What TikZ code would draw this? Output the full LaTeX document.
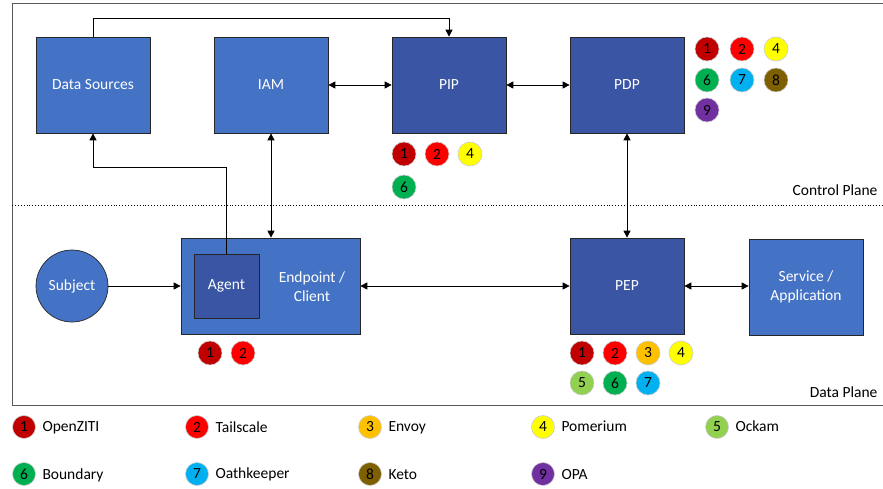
\documentclass[tikz,border=0pt]{standalone}
\usepackage{fontspec}
\setmainfont{Carlito}
\usepackage{tikz}
\usetikzlibrary{shapes,arrows.meta,positioning,calc}
\definecolor{boxblue}{RGB}{68,114,196}
\definecolor{boxdark}{RGB}{58,85,163}
\definecolor{frameg}{RGB}{89,89,89}
\definecolor{zt1}{RGB}{192,0,0}
\definecolor{zt2}{RGB}{255,0,0}
\definecolor{zt3}{RGB}{255,192,0}
\definecolor{zt4}{RGB}{255,255,0}
\definecolor{zt5}{RGB}{146,208,80}
\definecolor{zt6}{RGB}{0,176,80}
\definecolor{zt7}{RGB}{0,176,240}
\definecolor{zt8}{RGB}{127,96,0}
\definecolor{zt9}{RGB}{112,48,160}
\tikzset{
  comp/.style={draw=black!85, line width=0.7pt, fill=boxblue, text=white, minimum width=114pt, minimum height=96pt, align=center, inner sep=0pt},
  compdark/.style={comp, fill=boxdark},
  badge/.style={circle, draw=black!20, line width=0.6pt, minimum size=24pt, inner sep=0pt, text=black},
  arr/.style={-{Triangle[length=7pt,width=7pt]}, line width=0.8pt},
  biarr/.style={{Triangle[length=7pt,width=7pt]}-{Triangle[length=7pt,width=7pt]}, line width=0.8pt},
}
\begin{document}
\begin{tikzpicture}[x=1pt, y=-1pt, font=\fontsize{15.5}{18}\selectfont]
\useasboundingbox (0,0) rectangle (883,489);
\draw[frameg, line width=1pt] (12,4) rectangle (895,405);
\draw[dotted, line width=0.9pt] (12,205) -- (895,205);

% control plane
\node[comp] (ds) at (93,85) {Data Sources};
\node[comp] (iam) at (271,85) {IAM};
\node[compdark] (pip) at (449,85) {PIP};
\node[compdark] (pdp) at (627,85) {PDP};
\node[anchor=east] (cplane) at (881,190) {Control Plane};

% data plane
\node[circle, draw=black!85, line width=0.7pt, fill=boxblue, text=white, minimum size=72pt, inner sep=0pt] (subject) at (72,286) {Subject};
\node[comp, minimum width=179pt] (endpoint) at (270.5,286) {};
\node[anchor=center, text=white, align=center] (eplabel) at (312,287) {Endpoint /\\[1pt]Client};
\node[compdark, minimum width=65pt, minimum height=64pt] (agent) at (226.5,286) {Agent};
\node[compdark] (pep) at (627,286) {PEP};
\node[comp] (svc) at (806,287) {Service /\\[1pt]Application};
\node[anchor=east] (dplane) at (881,392) {Data Plane};

% connectors
\draw[arr] (ds.north) -- ++(0,-18) -| (pip.north);
\draw[biarr] (iam.east) -- (pip.west);
\draw[biarr] (pip.east) -- (pdp.west);
\draw[arr] (agent.north) -- ++(0,-86) -| (ds.south);
\draw[biarr] (iam.south) -- (iam.south |- endpoint.north);
\draw[arr] (subject.east) -- (endpoint.west);
\draw[biarr] (endpoint.east) -- (pep.west);
\draw[biarr] (pdp.south) -- (pep.north);
\draw[biarr] (pep.east) -- (pep.east -| svc.west);

% badges
\node[badge, fill=zt1] (pip1) at (404,154) {1};
\node[badge, fill=zt2] (pip2) at (437,154) {2};
\node[badge, fill=zt4] (pip4) at (470,154) {4};
\node[badge, fill=zt6] (pip6) at (404,187) {6};

\node[badge, fill=zt1] (pdp1) at (707,49) {1};
\node[badge, fill=zt2] (pdp2) at (742,49) {2};
\node[badge, fill=zt4] (pdp4) at (776,49) {4};
\node[badge, fill=zt6] (pdp6) at (707,80) {6};
\node[badge, fill=zt7] (pdp7) at (742,80) {7};
\node[badge, fill=zt8] (pdp8) at (776,80) {8};
\node[badge, fill=zt9] (pdp9) at (707,110) {9};

\node[badge, fill=zt1] (ep1) at (210,353) {1};
\node[badge, fill=zt2] (ep2) at (243,353) {2};

\node[badge, fill=zt1] (pep1) at (582,353) {1};
\node[badge, fill=zt2] (pep2) at (615,353) {2};
\node[badge, fill=zt3] (pep3) at (648,353) {3};
\node[badge, fill=zt4] (pep4) at (681,353) {4};
\node[badge, fill=zt5] (pep5) at (582,383) {5};
\node[badge, fill=zt6] (pep6) at (615,383) {6};
\node[badge, fill=zt7] (pep7) at (648,383) {7};

% legend
\foreach \n/\lx/\ly/\lname in {1/24/427/OpenZITI, 2/197/427/Tailscale, 3/370/427/Envoy, 4/543/427/Pomerium, 5/717/427/Ockam,
    6/24/474/Boundary, 7/197/474/Oathkeeper, 8/370/474/Keto, 9/543/474/OPA}
{
  \node[badge, fill=zt\n, minimum size=23pt] (leg\n) at (\lx,\ly) {\n};
  \node[anchor=base west, inner sep=0pt] (legtext\n) at ($(leg\n.base east)+(6.5,0)$) {\lname};
}
\end{tikzpicture}
\end{document}
